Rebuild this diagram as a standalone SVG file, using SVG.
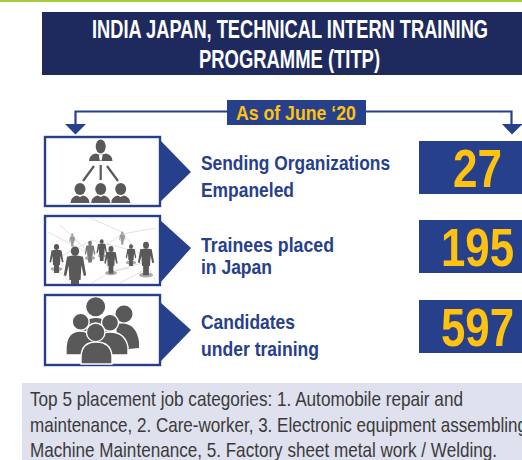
<svg xmlns="http://www.w3.org/2000/svg" xmlns:xlink="http://www.w3.org/1999/xlink" width="522" height="460" viewBox="0 0 522 460">
<style>
text{font-family:"Liberation Sans",Arial,sans-serif}
.t{font-weight:700;font-size:25px;fill:#fff}
.l{font-weight:700;font-size:21px;fill:#27408b}
.n{font-weight:700;font-size:53px;fill:#ffc20e}
.b{font-size:20px;fill:#3a3a3a}
.frame{fill:#fff;stroke:#27408b;stroke-width:2.4}
.blue{fill:#27408b}
.g{fill:#595959}
.w{stroke:#fff;stroke-width:1.4}
.web{stroke:#d4d4d4;stroke-width:.7;fill:none}
</style>
<defs>
<g id="man"><ellipse cx="0" cy="-18" rx="2.6" ry="3"/><path d="M-5-14.500Q0-16 5-14.500L7-3 5.500-2.500 4-9 3.500 0H1L0 7-1 7-1.500 0H-3.500L-4-9-5.500-2.500-7-3Z"/><path d="M-2.500 0h5v8h-5z"/></g>
<g id="bust"><ellipse cx="0" cy="0" rx="5.500" ry="6"/><path d="M-9.500 14Q-9.500 8-3 6.500L0 8 3 6.500Q9.500 8 9.500 14Z"/></g>
<clipPath id="c2"><rect x="46" y="217" width="113" height="67"/></clipPath>
</defs>
<rect width="522" height="2" fill="#a6ce39"/>
<g id="title"><rect x="42" y="12" width="480" height="63" fill="#1e2a5e"/>
<text class="t" transform="translate(92 38) scale(.73 1)" textLength="542.500" lengthAdjust="spacingAndGlyphs">INDIA JAPAN, TECHNICAL INTERN TRAINING</text>
<text class="t" transform="translate(199 68) scale(.73 1)" textLength="248" lengthAdjust="spacingAndGlyphs">PROGRAMME (TITP)</text></g>
<g id="connectors"><path d="M75.500 125V111.500H511.500V125" fill="none" stroke="#27408b" stroke-width="2.200"/>
<path class="blue" d="M65 124H86L75.500 134.500Z"/><path class="blue" d="M502 124H522V124.500L512 134.500Z"/></g>
<g id="date"><rect class="blue" x="227" y="100" width="139" height="25"/>
<text transform="translate(236 120) scale(.85 1)" font-size="20" font-weight="700" fill="#ffc20e" textLength="141" lengthAdjust="spacingAndGlyphs">As of June ‘20</text></g>
<g id="row1">
<rect class="frame" x="45" y="137" width="115" height="69"/>
<path class="blue" d="M160 140L191 172 160 202Z"/>
<g class="g"><ellipse cx="100.700" cy="146.500" rx="5" ry="7"/>
<path d="M89 161Q89 155 95.500 153.500L100.700 155 106 153.500Q112.500 155 112.500 161Z"/>
<path d="M98.800 155h3.800l-1 5.500h-1.800z" fill="#fff"/>
<use xlink:href="#bust" x="80" y="189"/><use xlink:href="#bust" x="100.700" y="189"/><use xlink:href="#bust" x="120.700" y="189"/></g>
<path d="M94 166L83 181M100.700 165V180M107 166L118 181" stroke="#595959" stroke-width="2.200" fill="none"/>
<text class="l" transform="translate(201 170) scale(.85 1)" textLength="222.400" lengthAdjust="spacingAndGlyphs">Sending Organizations</text>
<text class="l" transform="translate(201 197) scale(.85 1)" textLength="109.400" lengthAdjust="spacingAndGlyphs">Empaneled</text>
<rect class="blue" x="419" y="141" width="103" height="53"/>
<text class="n" transform="translate(453 187) scale(.83 1)" textLength="59" lengthAdjust="spacingAndGlyphs">27</text></g>
<g id="row2">
<rect class="frame" x="45" y="216" width="115" height="69"/>
<path class="blue" d="M160 220L191 248 160 283Z"/>
<g clip-path="url(#c2)">
<path class="web" d="M48 232L92 255 122 234 156 228M90 218L122 232 146 262 156 282M50 262L92 240 130 250M56 268L72 284M100 250L110 272 146 262M110 272L90 284M130 268L110 272M148 268L118 284M60 225L92 255"/>
<g class="g"><ellipse cx="56.500" cy="269" rx="6" ry="2" fill="#aaa"/><ellipse cx="90" cy="258" rx="5" ry="2" fill="#aaa"/><ellipse cx="102" cy="256" rx="4" ry="1.800" fill="#aaa"/><ellipse cx="111" cy="273" rx="6" ry="2.200" fill="#aaa"/><ellipse cx="131" cy="262.500" rx="5" ry="2" fill="#aaa"/><ellipse cx="146" cy="275" rx="7" ry="2.500" fill="#aaa"/>
<use xlink:href="#man" transform="translate(56.500 265)"/>
<use xlink:href="#man" transform="translate(75 280) scale(1.600)"/>
<use xlink:href="#man" transform="translate(90 256.500) scale(.75)" fill="#777"/>
<use xlink:href="#man" transform="translate(101.700 255) scale(.75)"/>
<use xlink:href="#man" transform="translate(111 266) scale(.95)"/>
<use xlink:href="#man" transform="translate(131 260) scale(.75)"/>
<use xlink:href="#man" transform="translate(146 266) scale(1.150)"/>
<use xlink:href="#man" transform="translate(72.300 243) scale(.45)" fill="#999"/>
<use xlink:href="#man" transform="translate(122.300 241) scale(.45)" fill="#999"/></g></g>
<text class="l" transform="translate(201 252) scale(.85 1)" textLength="156.500" lengthAdjust="spacingAndGlyphs">Trainees placed</text>
<text class="l" transform="translate(201 274) scale(.85 1)" textLength="83.500" lengthAdjust="spacingAndGlyphs">in Japan</text>
<rect class="blue" x="419" y="220" width="103" height="53"/>
<text class="n" transform="translate(441 266) scale(.826 1)" textLength="88.400" lengthAdjust="spacingAndGlyphs">195</text></g>
<g id="row3">
<rect class="frame" x="45" y="295" width="115" height="70"/>
<path class="blue" d="M160 302L191 330 160 362Z"/>
<g class="g">
<circle cx="124" cy="314" r="8.500"/><path d="M116 324Q136 320 139 342V348L118 350Z"/>
<circle cx="95.700" cy="306.700" r="9.500"/><path d="M82 330Q84 318 96 318Q108 318 110 330V340H82Z"/>
<circle class="w" cx="80.700" cy="321.700" r="8.500"/><path class="w" d="M66 355V347Q67 331 80 331Q94 331 96 347V355Z"/>
<circle class="w" cx="110" cy="322.700" r="8.500"/><path class="w" d="M96 350V345Q97 332 110 332Q125 332 128 347V355H96Z"/>
<circle class="w" cx="95.700" cy="332.300" r="9.300"/><path class="w" d="M81 364V356Q82 342 96 342Q111 342 112 356V364Z"/></g>
<text class="l" transform="translate(201 329) scale(.85 1)" textLength="110.600" lengthAdjust="spacingAndGlyphs">Candidates</text>
<text class="l" transform="translate(201 356) scale(.85 1)" textLength="138.800" lengthAdjust="spacingAndGlyphs">under training</text>
<rect class="blue" x="419" y="300" width="103" height="53"/>
<text class="n" transform="translate(441 346) scale(.826 1)" textLength="88.400" lengthAdjust="spacingAndGlyphs">597</text></g>
<g id="note"><rect x="22" y="383" width="500" height="77" fill="#dfe1ee"/>
<text class="b" transform="translate(30 406) scale(.85 1)" textLength="509.400" lengthAdjust="spacingAndGlyphs">Top 5 placement job categories: 1. Automobile repair and</text>
<text class="b" transform="translate(30 432) scale(.85 1)" textLength="584.700" lengthAdjust="spacingAndGlyphs">maintenance, 2. Care-worker, 3. Electronic equipment assembling</text>
<text class="b" transform="translate(30 457) scale(.85 1)" textLength="549.400" lengthAdjust="spacingAndGlyphs">Machine Maintenance, 5. Factory sheet metal work / Welding.</text></g>
</svg>
